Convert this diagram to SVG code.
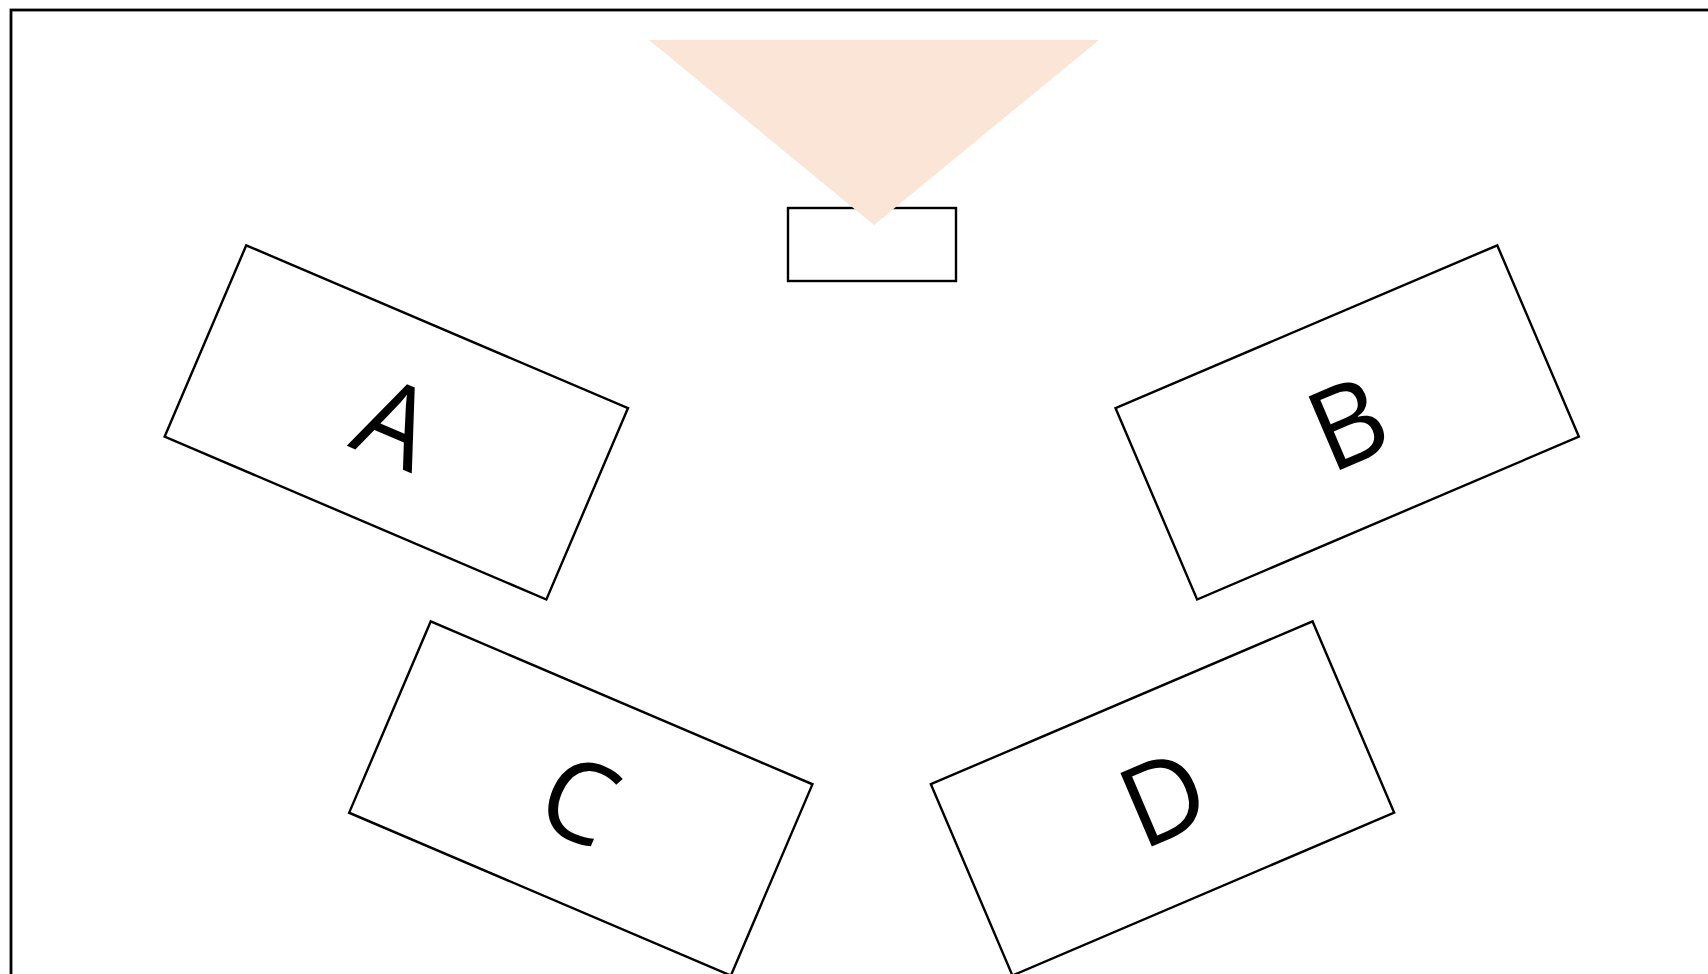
<svg xmlns="http://www.w3.org/2000/svg" width="1708" height="974" viewBox="0 0 1708 974">
<style>
.box{fill:#fff;stroke:#000;stroke-width:2.4}
.lbl{font-family:"Open Sans","Liberation Sans",sans-serif;font-size:112px;font-weight:500;fill:#000;text-anchor:middle}
</style>
<rect x="0" y="0" width="1708" height="974" fill="#fff"/>
<rect x="11" y="10" width="1800" height="1100" fill="none" stroke="#000" stroke-width="2.8"/>
<g id="small">
<rect class="box" x="788" y="208" width="168" height="73"/>
</g>
<g id="funnel">
<polygon points="649,40 1099,40 874,225" fill="#FBE5D6"/>
</g>
<g id="nodeA" transform="translate(396.3,422.4) rotate(23.1)">
<rect class="box" x="-207.5" y="-104" width="415" height="208"/>
<text class="lbl" x="-1" y="41">A</text>
</g>
<g id="nodeB" transform="translate(1347.2,422.4) rotate(-23.1)">
<rect class="box" x="-207.5" y="-104" width="415" height="208"/>
<text class="lbl" x="0" y="41">B</text>
</g>
<g id="nodeC" transform="translate(580.8,798.5) rotate(23.1)">
<rect class="box" x="-207.5" y="-104" width="415" height="208"/>
<text class="lbl" x="-1" y="42">C</text>
</g>
<g id="nodeD" transform="translate(1162.5,798.4) rotate(-23.1)">
<rect class="box" x="-207.5" y="-104" width="415" height="208"/>
<text class="lbl" x="1" y="40">D</text>
</g>
<g id="connectors"></g>
</svg>
